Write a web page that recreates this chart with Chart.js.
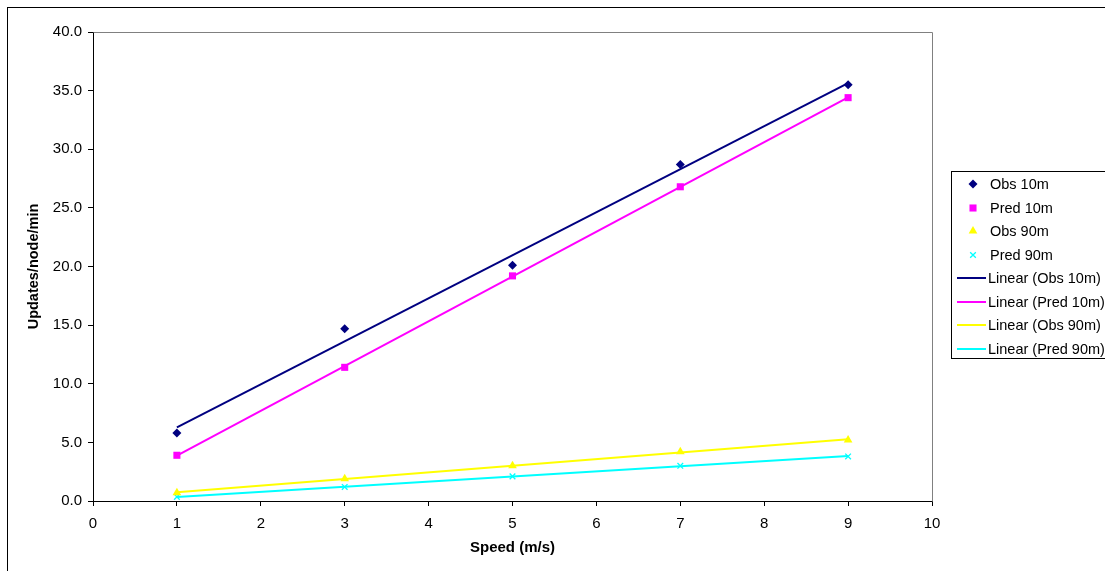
<!DOCTYPE html>
<html><head><meta charset="utf-8">
<script src="https://cdn.jsdelivr.net/npm/chart.js@4.4.0/dist/chart.umd.min.js"></script>
<style>html,body{margin:0;padding:0;background:#fff;}#wrap{width:1105px;height:571px;position:relative;}</style>
</head><body><div id="wrap"><canvas id="c" width="1105" height="571"></canvas></div>
<script>
// ---- data ----
const speeds = [1, 3, 5, 7, 9];
const obs10  = [5.8, 14.7, 20.1, 28.7, 35.5];
const pred10 = [3.9, 11.4, 19.2, 26.8, 34.4];
const obs90  = [0.7, 1.9, 3.0, 4.2, 5.2];
const pred90 = [0.35, 1.2, 2.1, 3.0, 3.8];
const seriesNames = ['Obs 10m', 'Pred 10m', 'Obs 90m', 'Pred 90m'];
const trendNames = ['Linear (Obs 10m)', 'Linear (Pred 10m)', 'Linear (Obs 90m)', 'Linear (Pred 90m)'];
const colors = ['#000080', '#FF00FF', '#FFFF00', '#00FFFF'];
const markers = ['rectRot', 'rect', 'triangle', 'crossRot'];
const markerRadius = [4.5, 5, 5, 4];
const xTitle = 'Speed (m/s)';
const yTitle = 'Updates/node/min';

// least-squares trendline (as the spreadsheet's "Linear" trendline)
function linearFit(xs, ys) {
  const n = xs.length;
  const mx = xs.reduce((a, b) => a + b, 0) / n;
  const my = ys.reduce((a, b) => a + b, 0) / n;
  let sxy = 0, sxx = 0;
  for (let i = 0; i < n; i++) { sxy += (xs[i] - mx) * (ys[i] - my); sxx += (xs[i] - mx) ** 2; }
  const b = sxy / sxx, a = my - b * mx;
  return [{x: xs[0], y: a + b * xs[0]}, {x: xs[n - 1], y: a + b * xs[n - 1]}];
}
const seriesVals = [obs10, pred10, obs90, pred90];
const FONT = '"Liberation Sans", Arial, sans-serif';

const datasets = [];
seriesVals.forEach((vals, i) => {
  datasets.push({
    type: 'line', label: trendNames[i], data: linearFit(speeds, vals),
    borderColor: colors[i], borderWidth: 2, pointRadius: 0, showLine: true, fill: false, order: 2
  });
});
seriesVals.forEach((vals, i) => {
  datasets.push({
    type: 'scatter', label: seriesNames[i], data: speeds.map((x, j) => ({x, y: vals[j]})),
    pointStyle: markers[i], pointRadius: markerRadius[i],
    backgroundColor: colors[i], borderColor: colors[i], borderWidth: markers[i] === 'crossRot' ? 1.3 : 0,
    showLine: false, order: 1
  });
});

const framePlugin = {
  id: 'frame',
  beforeDraw(chart) {
    const ctx = chart.ctx;
    ctx.save();
    ctx.fillStyle = '#fff';
    ctx.fillRect(0, 0, chart.width, chart.height);
    ctx.strokeStyle = '#000'; ctx.lineWidth = 1;
    ctx.strokeRect(7.5, 7.5, 1200, 1000);
    ctx.restore();
  },
  afterDatasetsDraw(chart) {
    const {ctx, chartArea: a} = chart;
    ctx.save();
    ctx.strokeStyle = '#808080'; ctx.lineWidth = 1;
    ctx.beginPath();
    ctx.moveTo(Math.round(a.left) + 0.5, Math.round(a.top) + 0.5);
    ctx.lineTo(Math.round(a.right) + 0.5, Math.round(a.top) + 0.5);
    ctx.lineTo(Math.round(a.right) + 0.5, Math.round(a.bottom) + 0.5);
    ctx.stroke();
    ctx.restore();
  },
  afterDraw(chart) {
    const ctx = chart.ctx;
    ctx.save();
    const bx = 951.5, by = 171.5;
    ctx.strokeStyle = '#000'; ctx.lineWidth = 1;
    ctx.strokeRect(bx, by, 300, 187);
    ctx.font = '14.5px ' + FONT;
    ctx.textBaseline = 'middle';
    const items = [];
    seriesNames.forEach((n, i) => items.push({text: n, kind: 'pt', i}));
    trendNames.forEach((n, i) => items.push({text: n, kind: 'ln', i}));
    items.forEach((it, k) => {
      const y = Math.round(184 + k * 23.5);
      if (it.kind === 'pt') {
        const ds = chart.data.datasets[4 + it.i];
        ctx.fillStyle = colors[it.i]; ctx.strokeStyle = colors[it.i]; ctx.lineWidth = ds.borderWidth;
        Chart.helpers.drawPoint(ctx, {pointStyle: ds.pointStyle, radius: ds.pointRadius, rotation: 0, borderWidth: ds.borderWidth}, 973, y);
        ctx.fillStyle = '#000';
        ctx.fillText(it.text, 990, y + 1);
      } else {
        ctx.strokeStyle = colors[it.i]; ctx.lineWidth = 2;
        ctx.beginPath(); ctx.moveTo(957, y); ctx.lineTo(986, y); ctx.stroke();
        ctx.fillStyle = '#000';
        ctx.fillText(it.text, 988, y + 1);
      }
    });
    ctx.restore();
  }
};

new Chart(document.getElementById('c'), {
  data: {datasets},
  options: {
    responsive: false, animation: false, devicePixelRatio: 1,
    layout: {padding: {left: 0, top: 32, right: 173, bottom: 0}},
    plugins: {legend: {display: false}, tooltip: {enabled: false}},
    scales: {
      x: {
        type: 'linear', min: 0, max: 10,
        ticks: {stepSize: 1, color: '#000', font: {family: FONT, size: 15}, padding: 9, maxRotation: 0},
        grid: {drawOnChartArea: false, drawTicks: true, tickLength: 5, tickColor: '#000'},
        border: {color: '#000', width: 1},
        title: {display: true, text: xTitle, color: '#000', font: {family: FONT, size: 15, weight: 'bold'}, padding: {top: 4, bottom: 14}},
        afterFit: s => { s.height = 70; }
      },
      y: {
        type: 'linear', min: 0, max: 40,
        ticks: {stepSize: 5, color: '#000', font: {family: FONT, size: 15}, padding: 6, callback: v => v.toFixed(1)},
        grid: {drawOnChartArea: false, drawTicks: true, tickLength: 5, tickColor: '#000'},
        border: {color: '#000', width: 1},
        title: {display: true, text: yTitle, color: '#000', font: {family: FONT, size: 14.5, weight: 'bold'}, padding: {top: 25, bottom: 0}},
        afterFit: s => { s.width = 93; }
      }
    }
  },
  plugins: [framePlugin]
});
</script></body></html>
